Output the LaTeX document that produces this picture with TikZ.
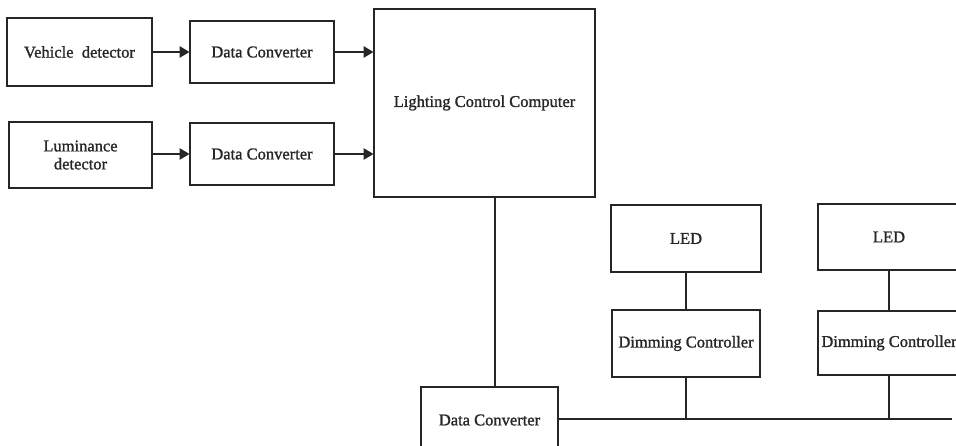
\documentclass[tikz,border=0pt]{standalone}
\usepackage{fontspec}
\setmainfont{Liberation Serif}[FakeBold=1.2]
\usetikzlibrary{arrows.meta}
\definecolor{ink}{HTML}{262626}
\tikzset{
  blk/.style={draw=ink, line width=2.8pt, fill=white, text=ink, align=center,
    inner sep=2pt, font=\fontsize{16.5}{18}\selectfont},
  wire/.style={draw=ink, line width=2.8pt},
  arr/.style={wire, -{Triangle[length=10pt,width=11pt]}, shorten >=-1pt}
}
\begin{document}
\begin{tikzpicture}[x=1pt,y=1pt]
\useasboundingbox (0,0) rectangle (956,445);
\clip (0,0) rectangle (956,445);
% top-left column
\node[blk, minimum width=145pt, minimum height=68pt] (veh) at (79.5,393) {Vehicle\ \ detector};
\node[blk, minimum width=144pt, minimum height=62pt] (dc1) at (262,393) {Data Converter};
\node[blk, minimum width=143pt, minimum height=66pt] (lum) at (80.5,290) {Luminance\\detector};
\node[blk, minimum width=144pt, minimum height=62pt] (dc2) at (262,291) {Data Converter};
\node[blk, minimum width=221pt, minimum height=188pt] (lcc) at (484.5,342) {Lighting Control Computer};
% bottom part
\node[blk, minimum width=137pt, minimum height=66pt] (dc3) at (489.5,25) {Data Converter};
\node[blk, minimum width=150pt, minimum height=67pt] (led1) at (686,206.5) {LED};
\node[blk, minimum width=148pt, minimum height=67pt] (dim1) at (686,101.5) {Dimming Controller};
\node[blk, minimum width=142pt, minimum height=66pt] (led2) at (889,208) {LED};
\node[blk, minimum width=142pt, minimum height=64pt] (dim2) at (889,102) {Dimming Controller};
\coordinate (busend) at (952,26);
% connectors
\draw[arr] (veh.east) -- (dc1.west);
\draw[arr] (lum.east |- dc2.west) -- (dc2.west);
\draw[arr] (dc1.east) -- (lcc.west |- dc1.east);
\draw[arr] (dc2.east) -- (lcc.west |- dc2.east);
\draw[wire] ([xshift=10.5pt]lcc.south) -- ([xshift=5.5pt]dc3.north);
\draw[wire] (dc3.east |- busend) -- (busend);
\draw[wire] (led1.south) -- (dim1.north);
\draw[wire] (led2.south) -- (dim2.north);
\draw[wire] (dim1.south) -- (dim1.south |- busend);
\draw[wire] (dim2.south) -- (dim2.south |- busend);
\end{tikzpicture}
\end{document}
